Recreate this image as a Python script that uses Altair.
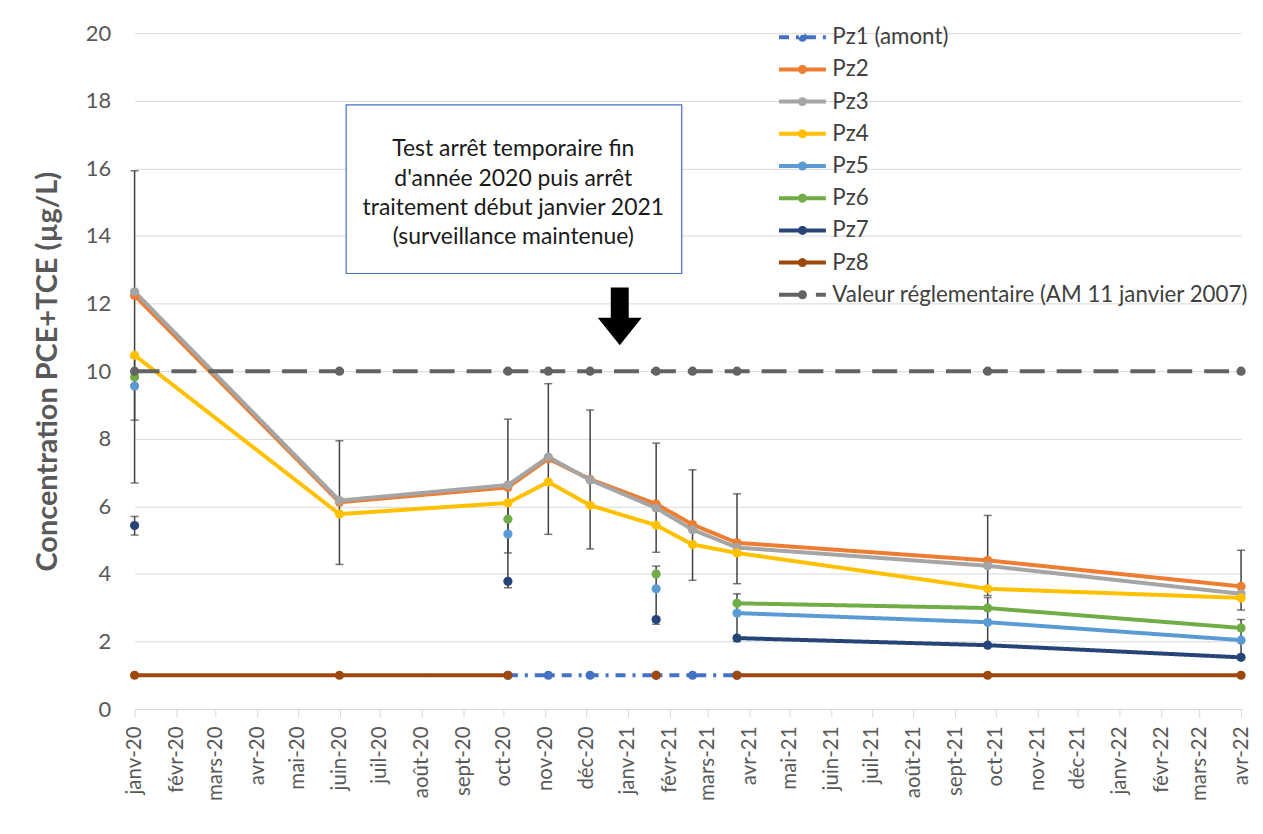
import altair as alt
import pandas as pd

# ---------------- data ----------------
dates = ["2020-01-01", "2020-06-01", "2020-10-04", "2020-11-03", "2020-12-04",
         "2021-01-22", "2021-02-18", "2021-03-23", "2021-09-25", "2022-04-01"]
N = None
pz1 = [N, N, 1.0, 1.0, 1.0, 1.0, 1.0, 1.0, N, N]
pz2 = [12.24, 6.12, 6.56, 7.41, 6.80, 6.07, 5.46, 4.92, 4.40, 3.63]
pz3 = [12.35, 6.17, 6.63, 7.46, 6.78, 5.95, 5.31, 4.78, 4.24, 3.41]
pz4 = [10.47, 5.77, 6.10, 6.72, 6.03, 5.44, 4.87, 4.62, 3.56, 3.29]
pz5 = [9.56, N, 5.18, N, N, 3.56, N, 2.84, 2.57, 2.04]
pz6 = [9.83, N, 5.62, N, N, 4.00, N, 3.13, 2.99, 2.40]
pz7 = [5.43, N, 3.78, N, N, 2.65, N, 2.10, 1.89, 1.53]
pz8 = [1.0, 1.0, 1.0, N, N, 1.0, N, 1.0, 1.0, 1.0]
valeur = [10.0, 10.0, 10.0, 10.0, 10.0, 10.0, 10.0, 10.0, 10.0, 10.0]

series_names = ["Pz1 (amont)", "Pz2", "Pz3", "Pz4", "Pz5", "Pz6", "Pz7", "Pz8",
                "Valeur réglementaire (AM 11 janvier 2007)"]
series_values = [pz1, pz2, pz3, pz4, pz5, pz6, pz7, pz8, valeur]
series_colors = ["#4472C4", "#ED7D31", "#A5A5A5", "#FFC000", "#5B9BD5",
                 "#70AD47", "#264478", "#9E480E", "#636363"]
series_dash = [[10, 7, 3, 7], [1, 0], [1, 0], [1, 0], [1, 0], [1, 0], [1, 0], [1, 0], [25, 12]]

# error bars (date, low, high)
err_dates = ["2020-01-01", "2020-01-01", "2020-01-01", "2020-06-01", "2020-10-04", "2020-10-04",
             "2020-11-03", "2020-12-04", "2021-01-22", "2021-01-22", "2021-02-18",
             "2021-03-23", "2021-03-23", "2021-09-25", "2021-09-25", "2022-04-01", "2022-04-01"]
err_low = [6.69, 8.55, 5.15, 4.28, 4.62, 3.59, 5.17, 4.74, 4.64, 2.51, 3.81,
           3.71, 2.00, 3.36, 1.87, 2.93, 1.60]
err_high = [15.93, 10.40, 5.70, 7.94, 8.58, 6.10, 9.63, 8.85, 7.87, 4.23, 7.08,
            6.37, 3.41, 5.73, 3.30, 4.70, 2.65]

month_ticks = [d.strftime("%Y-%m-%d") for d in pd.date_range("2020-01-01", "2022-04-01", freq="MS")]

note_text = ("Test arrêt temporaire fin\nd'année 2020 puis arrêt\n"
             "traitement début janvier 2021\n(surveillance maintenue)")

# ---------------- tables ----------------
rows = []
for name, vals in zip(series_names, series_values):
    seg = 0
    prev = False
    for d, v in zip(dates, vals):
        if v is None:
            if prev:
                seg += 1
            prev = False
            continue
        rows.append({"date": d, "value": v, "series": name, "seg": f"{name}-{seg}"})
        prev = True
df = pd.DataFrame(rows)

err_df = pd.DataFrame({"date": err_dates, "lo": err_low, "hi": err_high})
cap_df = pd.DataFrame({"date": err_dates + err_dates, "v": err_low + err_high})

box_df = pd.DataFrame({"x1": ["2020-06-06"], "x2": ["2021-02-10"], "y1": [12.89], "y2": [17.88]})
txt_df = pd.DataFrame({"x": ["2020-10-08"], "y": [16.57]})
arrow_df = pd.DataFrame({"x": ["2020-12-26"], "y": [11.62]})

# ---------------- scales / axes ----------------
def dt(s):
    y, m, d = [int(p) for p in s.split("-")]
    return alt.DateTime(year=y, month=m, date=d, utc=True)

xscale = alt.Scale(type="utc", domain=[dt("2020-01-01"), dt("2022-04-01")], nice=False)
yscale = alt.Scale(domain=[0, 20], nice=False)

months_fr = "['janv','févr','mars','avr','mai','juin','juil','août','sept','oct','nov','déc']"
xaxis = alt.Axis(values=[dt(s) for s in month_ticks],
                 labelExpr=months_fr + "[utcmonth(datum.value)] + '-' + utcFormat(datum.value, '%y')",
                 labelAngle=270, labelFontSize=20.5, labelColor="#595959", labelFont="Lato",
                 tickColor="#D9D9D9", domainColor="#D9D9D9", tickSize=8, labelPadding=9,
                 grid=False, labelOverlap=False, labelFlush=False)
yaxis = alt.Axis(values=[0, 2, 4, 6, 8, 10, 12, 14, 16, 18, 20], grid=True, gridColor="#D9D9D9",
                 domain=False, ticks=False, labelFontSize=22, labelColor="#595959", labelFont="Lato",
                 labelPadding=24, titleFont="Lato", titleFontSize=29, titleFontWeight="bold",
                 titleColor="#595959", titlePadding=23)
ytitle = "Concentration PCE+TCE (µg/L)"


def X(field):
    return alt.X(field, type="temporal", scale=xscale, axis=xaxis, title=None)


def Y(field):
    return alt.Y(field, type="quantitative", scale=yscale, axis=yaxis, title=ytitle)


legend_path = "M-2.35,0L2.35,0M-0.25,0A0.25,0.25,0,1,0,0.25,0A0.25,0.25,0,1,0,-0.25,0"
legend = alt.Legend(title=None, orient="none", legendX=658, legendY=-8, symbolType=legend_path,
                    symbolSize=400, symbolStrokeWidth=4, labelFontSize=22.4, labelFont="Lato",
                    labelColor="#404040", rowPadding=8.3, labelOffset=18, padding=0, labelLimit=600)

color_scale = alt.Scale(domain=series_names, range=series_colors)
dash_scale = alt.Scale(domain=series_names, range=series_dash)

# ---------------- layers ----------------
rules = alt.Chart(err_df).mark_rule(color="#404040", strokeWidth=1.5).encode(
    x=X("date"), y=Y("lo"), y2="hi")
caps = alt.Chart(cap_df).mark_tick(color="#404040", thickness=1.5, size=8, orient="horizontal").encode(
    x=X("date"), y=Y("v"))

lines = alt.Chart(df).mark_line(strokeWidth=4, strokeCap="butt", strokeJoin="round").encode(
    x=X("date"), y=Y("value"),
    color=alt.Color("series:N", scale=color_scale, legend=legend),
    strokeDash=alt.StrokeDash("series:N", scale=dash_scale, legend=legend),
    detail="seg:N")

points = alt.Chart(df).mark_circle(size=85, opacity=1).encode(
    x=X("date"), y=Y("value"),
    fill=alt.Fill("series:N", scale=color_scale, legend=None))

box = alt.Chart(box_df).mark_rect(fill="white", stroke="#4472C4", strokeWidth=1.2).encode(
    x=X("x1"), x2="x2", y=Y("y1"), y2="y2")
note = alt.Chart(txt_df).mark_text(lineBreak="\n", lineHeight=29.5, fontSize=23, font="Lato",
                                   color="#1a1a1a", align="center", baseline="middle").encode(
    x=X("x"), y=Y("y"), text=alt.value(note_text))
arrow = alt.Chart(arrow_df).mark_point(
    shape="M-0.31,-1L0.31,-1L0.31,0.05L0.76,0.05L0,1L-0.76,0.05L-0.31,0.05Z",
    size=3364, filled=True, fill="black", opacity=1, strokeWidth=0).encode(
    x=X("x"), y=Y("y"))

chart = alt.layer(rules, caps, lines, points, box, note, arrow).properties(
    width=1110, height=678,
    autosize=alt.AutoSizeParams(type="none"),
    padding={"left": 127, "top": 24, "right": 14, "bottom": 118},
    background="white",
).configure_view(stroke=None)

chart.save("out.html", embed_options={"renderer": "svg", "actions": False})
